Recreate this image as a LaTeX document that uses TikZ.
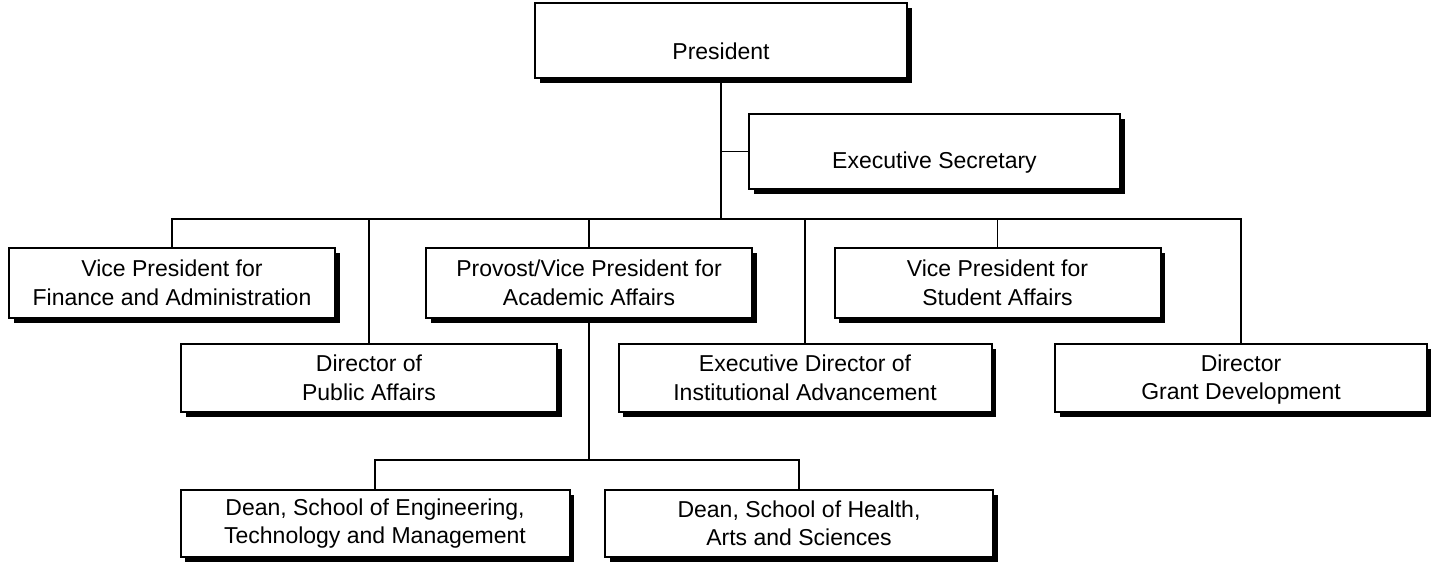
\documentclass[tikz,border=0pt]{standalone}
\usepackage{fontspec}
\setmainfont{Liberation Sans}
\usetikzlibrary{shadows}
\begin{document}
\begin{tikzpicture}[x=1pt,y=-1pt,
  orgbox/.style={draw=black, fill=white, line width=2pt, inner sep=0pt, align=center,
    font=\fontsize{23}{28.5}\selectfont,
    drop shadow={shadow xshift=4.5pt, shadow yshift=-4.5pt, fill=black, opacity=1}},
  lbl/.style={inner sep=0pt, font=\fontsize{23}{28.5}\selectfont},
  conn/.style={draw=black, line width=1.8pt}]
\useasboundingbox (0,0) rectangle (1431,563);
% boxes
\node[orgbox, minimum width=372pt, minimum height=75pt] (pres) at (721,40.5) {};
\node[lbl] (presT) at ([yshift=-11pt]pres.center) {President};
\node[orgbox, minimum width=371pt, minimum height=75pt] (sec) at (934.5,151.5) {};
\node[lbl] (secT) at ([yshift=-11pt]sec.center) {Executive Secretary};
\node[orgbox, minimum width=326pt, minimum height=70pt] (vpf) at (172,283) {Vice President for\\Finance and Administration};
\node[orgbox, minimum width=326pt, minimum height=70pt] (prov) at (589,283) {Provost/Vice President for\\Academic Affairs};
\node[orgbox, minimum width=326pt, minimum height=70pt] (vps) at (997.5,283) {Vice President for\\Student Affairs};
\node[orgbox, minimum width=376pt, minimum height=68pt] (dpa) at (369,378) {Director of\\Public Affairs};
\node[orgbox, minimum width=373pt, minimum height=68pt] (eda) at (805,378) {Executive Director of\\Institutional Advancement};
\node[orgbox, minimum width=372pt, minimum height=68pt] (grant) at (1241,378) {Director\strut\\Grant Development};
\node[orgbox, minimum width=389pt, minimum height=67pt] (deng) at (375,523.5) {Dean, School of Engineering,\\Technology and Management};
\node[orgbox, minimum width=388pt, minimum height=67pt] (dhea) at (799,523.5) {Dean, School of Health,\\Arts and Sciences};
% bus coordinates
\coordinate (bus) at (721,219);
\coordinate (sub) at (589,460);
% connectors
\draw[conn] (pres.south) -- (bus);
\draw[conn] (pres.south |- sec.west) -- (sec.west);
\draw[conn] (vpf.north) -- (vpf.north |- bus) -- (grant.north |- bus) -- (grant.north);
\draw[conn] (dpa.north) -- (dpa.north |- bus);
\draw[conn] (prov.north) -- (prov.north |- bus);
\draw[conn] (eda.north) -- (eda.north |- bus);
\draw[conn] (vps.north) -- (vps.north |- bus);
\draw[conn] (prov.south) -- (sub);
\draw[conn] (deng.north) -- (deng.north |- sub) -- (dhea.north |- sub) -- (dhea.north);
\end{tikzpicture}
\end{document}
